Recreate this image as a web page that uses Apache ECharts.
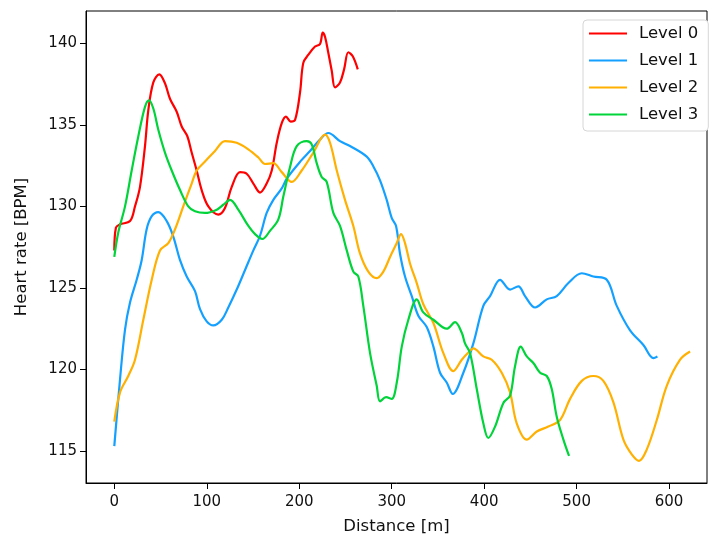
<!DOCTYPE html>
<html><head><meta charset="utf-8">
<script src="https://cdn.jsdelivr.net/npm/echarts@6/dist/echarts.min.js"></script>
<style>html,body{margin:0;padding:0;background:#fff}#c{width:709px;height:541px}</style>
</head><body><div id="c"></div>
<script>
const seriesNames = ['Level 0','Level 1','Level 2','Level 3'];
const xTicks = [0,100,200,300,400,500,600];
const yTicks = [115,120,125,130,135,140];

const level0X = [0,1.8,6,17,22.4,27.8,33.2,36.8,42.2,48.7,54.8,60.2,67.5,72.9,79,83.7,89.1,94.5,101.7,112.5,119.7,127,136,143.2,150.4,157.6,164.8,170.3,175.7,181.1,185.7,190.8,195.5,200.9,204.4,209.9,217.1,222.5,225.4,227.9,231.5,235.2,238.7,244.1,248.5,253.1,257.9,263.3];
const level0Y = [127.3,128.7,128.9,129.1,130,131.2,133.7,135.9,137.6,138.1,137.55,136.6,135.8,134.9,134.3,133.3,132.2,131.0,130,129.5,129.9,131.2,132.1,132.0,131.4,130.85,131.4,132.2,133.9,135.1,135.5,135.2,135.3,137.0,138.8,139.3,139.8,139.96,140.65,140.4,139.4,138.3,137.3,137.6,138.4,139.45,139.2,138.4];

const level1X = [0,6.2,11.6,17,24.2,29.6,35,40.5,47.6,56.7,63.8,71.1,78.3,87.3,92.7,99.9,107.1,116.2,123.3,132.4,141.4,150.4,157.6,164.8,172,181.1,186.5,202.7,211.7,222.5,231.5,244.1,254.9,273,280.2,287.4,294.6,300,304.7,309,314.4,321.7,328.8,337.9,345.1,352.3,359.5,366,377.5,388.3,399.1,406.4,417.2,428,437,444.2,455.1,467.7,478.5,491.1,505.6,518.1,532.6,543.4,557.8,572.2,583,587.4];
const level1Y = [115.3,119.4,122.45,124.1,125.5,126.7,128.6,129.4,129.65,129.1,128.15,126.7,125.7,124.8,123.7,122.95,122.7,123.05,123.8,124.9,126.1,127.3,128.2,129.6,130.4,131.1,131.7,132.85,133.4,134.1,134.5,134.0,133.7,133.05,132.45,131.6,130.4,129.3,128.8,127.1,125.7,124.5,123.3,122.6,121.4,119.8,119.2,118.5,119.8,121.6,123.9,124.5,125.5,124.9,125.1,124.5,123.8,124.3,124.5,125.3,125.9,125.7,125.5,123.9,122.4,121.5,120.7,120.8];

const level2X = [0,6.2,15.1,22.4,31.4,40.5,49.4,58.4,65.7,74.6,83.7,89.1,98.1,108.9,119.7,132.4,144.9,155.8,163,172,181.1,191.9,202.7,215.3,227.9,233.3,240.6,249.5,258.5,265.8,274.7,283.8,291,298.2,305.5,310.1,314.4,319.8,327.1,334.2,345.1,355.9,366.7,375.8,384,388.3,399.1,408.2,419,428,435.2,446.1,456.9,469.4,482.1,492.9,505.6,518.1,528.9,539.7,550.6,559.6,567.5,575.9,586.7,597.5,611.9,622.7];
const level2Y = [116.8,118.6,119.6,120.6,123.05,125.5,127.3,127.75,128.6,130,131.4,132.2,132.75,133.4,134.0,133.9,133.5,133.0,132.6,132.65,132.1,131.5,132.2,133.3,134.4,133.9,132.2,130.4,128.8,127.1,126.0,125.6,126.0,126.9,127.75,128.3,127.75,126.5,125.3,124.0,122.85,121.0,119.9,120.6,121.1,121.3,120.8,120.6,119.8,118.6,116.7,115.7,116.2,116.5,116.9,118.2,119.3,119.6,119.3,118.0,115.7,114.8,114.4,115.1,116.9,119.0,120.6,121.1];

const level3X = [0,4.3,11.6,18.8,26,33.2,37.5,42.2,47.6,54.8,62.1,71.1,80,87.3,98.1,110.8,117.9,125.2,134.1,145,152.2,160.1,168.4,177.4,182.8,190,197.3,208.1,213.5,218.9,224.3,229.7,236.9,244.1,251.4,258.5,263.9,269.3,276.6,283.8,287.4,293.9,300,305.5,310.9,318,327.1,334.2,345.1,359.5,368.5,375.8,379.3,384.8,392,399.1,404.5,411.8,420.8,428,433.4,439.6,446.1,453.2,460.5,467.7,473.1,478.5,485.7,491.8];
const level3Y = [126.9,128.4,130.0,132.2,134.3,136.1,136.5,136.0,134.7,133.3,132.2,131.0,130.0,129.7,129.6,129.8,130.1,130.4,129.8,128.8,128.3,128.0,128.5,129.2,130.6,132.4,133.7,134.0,133.8,132.65,131.8,131.5,129.6,128.8,127.3,126.0,125.7,123.9,121.0,119.0,118.05,118.3,118.2,119.2,121.4,123.05,124.3,123.5,123.05,122.5,122.9,122.25,121.6,121.0,118.8,116.7,115.8,116.5,117.95,118.4,120.2,121.4,120.8,120.4,119.8,119.6,118.8,117.1,115.7,114.7];

const colors = ['#ff0000','#14a0ff','#ffb000','#00d43a'];
const xs = [level0X, level1X, level2X, level3X];
const ys = [level0Y, level1Y, level2Y, level3Y];

const chart = echarts.init(document.getElementById('c'), null, {renderer:'canvas'});
const font = 'DejaVu Sans';
const fs = 16.5;
const tfs = 15;
chart.setOption({
  animation: false,
  backgroundColor: '#ffffff',
  textStyle: {fontFamily: font},
  grid: {left: 86, top: 11, right: 2, bottom: 58, show: true, borderColor: '#000', borderWidth: 1, backgroundColor: 'transparent'},
  legend: {
    left: 583, top: 20, orient: 'vertical',
    data: seriesNames.map(n => ({name: n, icon: 'rect'})),
    itemWidth: 38, itemHeight: 2.2, itemGap: 10,
    padding: [5, 10, 8, 6],
    backgroundColor: '#fff', borderColor: '#d6d6d6', borderWidth: 1, borderRadius: 4,
    textStyle: {fontFamily: font, fontSize: 16.5, lineHeight: 17, color: '#111', padding: [0, 0, 0, 7]}
  },
  xAxis: {
    type: 'value', min: -30.6, max: 641,
    name: 'Distance [m]', nameLocation: 'middle', nameGap: 35,
    nameTextStyle: {fontFamily: font, fontSize: fs, color: '#111'},
    axisLine: {show: true, onZero: false, lineStyle: {color: '#000', width: 1}},
    axisTick: {show: true, length: 6, customValues: xTicks, lineStyle: {color: '#000'}},
    axisLabel: {customValues: xTicks, margin: 12, fontFamily: font, fontSize: tfs, color: '#111'},
    splitLine: {show: false}
  },
  yAxis: {
    type: 'value', min: 113.04, max: 141.98,
    name: 'Heart rate [BPM]', nameLocation: 'middle', nameGap: 56, nameRotate: 90,
    nameTextStyle: {fontFamily: font, fontSize: fs, color: '#111'},
    axisLine: {show: true, onZero: false, lineStyle: {color: '#000', width: 1}},
    axisTick: {show: true, length: 6, customValues: yTicks, lineStyle: {color: '#000'}},
    axisLabel: {customValues: yTicks, margin: 9, fontFamily: font, fontSize: tfs, color: '#111'},
    splitLine: {show: false}
  },
  series: seriesNames.map((n, i) => ({
    name: n, type: 'line', showSymbol: false, symbol: 'none', smooth: 0.35,
    data: xs[i].map((x, j) => [x, ys[i][j]]),
    lineStyle: {color: colors[i], width: 2.2},
    itemStyle: {color: colors[i]}
  }))
});
</script>
</body></html>
